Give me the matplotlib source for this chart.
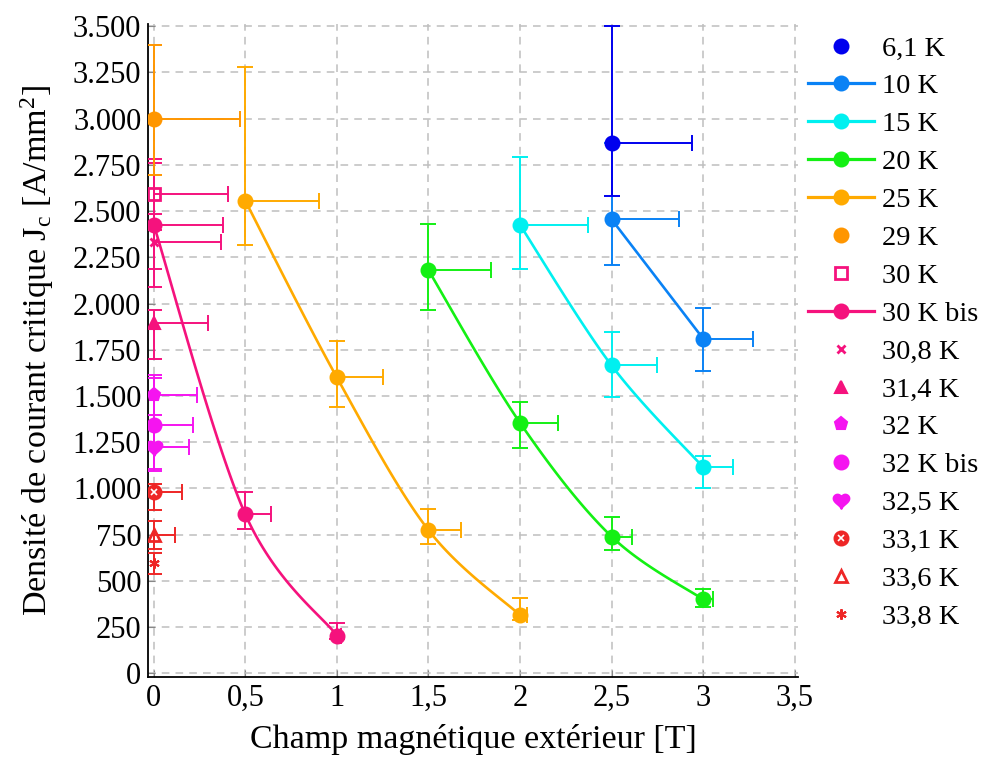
import matplotlib.pyplot as plt
import numpy as np
from matplotlib.lines import Line2D
from matplotlib.path import Path
from matplotlib.ticker import FuncFormatter, MultipleLocator

plt.rcParams['font.family'] = ['Liberation Serif', 'DejaVu Serif']
plt.rcParams['mathtext.fontset'] = 'custom'
plt.rcParams['mathtext.rm'] = 'Liberation Serif'
plt.rcParams['mathtext.it'] = 'Liberation Serif:italic'

# champ B [T], Jc [A/mm2], erreurs basses / hautes sur Jc, erreur + sur B
B_61 = [2.5]
J_61 = [2870]
J_61_lo = [290]
J_61_hi = [630]
B_61_err = [0.44]

B_10 = [2.5, 3.0]
J_10 = [2455, 1810]
J_10_lo = [245, 175]
J_10_hi = [415, 165]
B_10_err = [0.37, 0.27]

B_15 = [2.0, 2.5, 3.0]
J_15 = [2425, 1665, 1115]
J_15_lo = [240, 170, 110]
J_15_hi = [365, 180, 60]
B_15_err = [0.37, 0.25, 0.165]

B_20 = [1.5, 2.0, 2.5, 3.0]
J_20 = [2180, 1355, 740, 400]
J_20_lo = [215, 135, 75, 40]
J_20_hi = [250, 115, 105, 58]
B_20_err = [0.34, 0.21, 0.11, 0.055]

B_25 = [0.5, 1.0, 1.5, 2.0]
J_25 = [2555, 1600, 775, 315]
J_25_lo = [240, 160, 75, 25]
J_25_hi = [725, 195, 115, 95]
B_25_err = [0.4, 0.25, 0.18, 0.04]

B_29 = [0.0]
J_29 = [2995]
J_29_lo = [300]
J_29_hi = [405]
B_29_err = [0.47]

B_30 = [0.0]
J_30 = [2590]
J_30_lo = [190]
J_30_hi = [190]
B_30_err = [0.405]

B_30b = [0.0, 0.5, 1.0]
J_30b = [2425, 860, 205]
J_30b_lo = [335, 80, 20]
J_30b_hi = [335, 120, 65]
B_30b_err = [0.38, 0.14, 0.02]

B_308 = [0.0]
J_308 = [2335]
J_308_lo = [150]
J_308_hi = [150]
B_308_err = [0.366]

B_314 = [0.0]
J_314 = [1895]
J_314_lo = [195]
J_314_hi = [70]
B_314_err = [0.297]

B_32 = [0.0]
J_32 = [1505]
J_32_lo = [110]
J_32_hi = [110]
B_32_err = [0.237]

B_32b = [0.0]
J_32b = [1345]
J_32b_lo = [250]
J_32b_hi = [250]
B_32b_err = [0.212]

B_325 = [0.0]
J_325 = [1225]
J_325_lo = [120]
J_325_hi = [120]
B_325_err = [0.194]

B_331 = [0.0]
J_331 = [980]
J_331_lo = [95]
J_331_hi = [45]
B_331_err = [0.156]

B_336 = [0.0]
J_336 = [750]
J_336_lo = [75]
J_336_hi = [75]
B_336_err = [0.116]

B_338 = [0.0]
J_338 = [595]
J_338_lo = [55]
J_338_hi = [55]
B_338_err = [0.0]

labels = ['6,1 K', '10 K', '15 K', '20 K', '25 K', '29 K', '30 K', '30 K bis',
          '30,8 K', '31,4 K', '32 K', '32 K bis', '32,5 K', '33,1 K', '33,6 K', '33,8 K']

# coeur pour 32,5 K
t = np.linspace(0, 2 * np.pi, 80)
hx = 16 * np.sin(t) ** 3
hy = 13 * np.cos(t) - 5 * np.cos(2 * t) - 2 * np.cos(3 * t) - np.cos(4 * t)
heart = Path(np.column_stack([hx, hy]) / 17.0, closed=False)


def smooth(x, y, n=40):
    # Catmull-Rom en coordonnées normalisées
    x = np.asarray(x, float) / 3.5
    y = np.asarray(y, float) / 3500
    p = np.column_stack([x, y])
    p = np.vstack([p[0], p, p[-1]])
    out = []
    for i in range(1, len(p) - 2):
        p0, p1, p2, p3 = p[i - 1], p[i], p[i + 1], p[i + 2]
        c1 = p1 + (p2 - p0) / 6
        c2 = p2 - (p3 - p1) / 6
        s = np.linspace(0, 1, n)[:, None]
        seg = (1 - s) ** 3 * p1 + 3 * (1 - s) ** 2 * s * c1 + 3 * (1 - s) * s ** 2 * c2 + s ** 3 * p2
        out.append(seg)
    out = np.vstack(out)
    return out[:, 0] * 3.5, out[:, 1] * 3500


fig = plt.figure(figsize=(9.82, 7.57), dpi=100)
ax = fig.add_axes([0.151, 0.106, 0.662, 0.862])

series = [
    (B_61, J_61, J_61_lo, J_61_hi, B_61_err, '#0000ee', 'o', True, False),
    (B_10, J_10, J_10_lo, J_10_hi, B_10_err, '#0a82f5', 'o', True, True),
    (B_15, J_15, J_15_lo, J_15_hi, B_15_err, '#00f0f0', 'o', True, True),
    (B_20, J_20, J_20_lo, J_20_hi, B_20_err, '#14f014', 'o', True, True),
    (B_25, J_25, J_25_lo, J_25_hi, B_25_err, '#ffaa00', 'o', True, True),
    (B_29, J_29, J_29_lo, J_29_hi, B_29_err, '#ff9600', 'o', True, False),
    (B_30, J_30, J_30_lo, J_30_hi, B_30_err, '#f5127d', 's', False, False),
    (B_30b, J_30b, J_30b_lo, J_30b_hi, B_30b_err, '#f5127d', 'o', True, True),
    (B_308, J_308, J_308_lo, J_308_hi, B_308_err, '#f5127d', 'x', True, False),
    (B_314, J_314, J_314_lo, J_314_hi, B_314_err, '#f5127d', '^', True, False),
    (B_32, J_32, J_32_lo, J_32_hi, B_32_err, '#f514f0', 'p', True, False),
    (B_32b, J_32b, J_32b_lo, J_32b_hi, B_32b_err, '#f514f0', 'o', True, False),
    (B_325, J_325, J_325_lo, J_325_hi, B_325_err, '#f514f0', heart, True, False),
    (B_331, J_331, J_331_lo, J_331_hi, B_331_err, '#ee2626', 'o', True, False),
    (B_336, J_336, J_336_lo, J_336_hi, B_336_err, '#ee2626', '^', False, False),
    (B_338, J_338, J_338_lo, J_338_hi, B_338_err, '#ee2626', (6, 2, 0), True, False),
]

sizes = {'o': 10, 's': 8.5, 'x': 5.5, '^': 8.5, 'p': 9.5}
handles = []
for k, (bx, jy, lo, hi, xe, c, m, filled, line) in enumerate(series):
    z = 3 + 0.1 * (len(series) - k)
    ax.errorbar(bx, jy, yerr=[lo, hi], xerr=[[0] * len(bx), xe], fmt='none',
                ecolor=c, elinewidth=1.4, capsize=6, capthick=1.4, zorder=z)
    if line:
        if len(bx) > 2:
            sx, sy = smooth(bx, jy)
        else:
            sx, sy = bx, jy
        ax.plot(sx, sy, color=c, lw=1.9, zorder=z)
    ms = sizes.get(m, 10) if isinstance(m, str) else (12 if m is heart else 7.5)
    mew = 2.0 if m == 'x' or not filled else 1.5
    ax.plot(bx, jy, ls='none', marker=m, ms=ms, color=c, mec=c,
            mfc=c if filled else 'none', mew=mew, zorder=z + 1)
    h = Line2D([], [], color=c, lw=2.3 if line else 0, ls='-' if line else 'none',
               marker=m, ms=ms, mec=c, mfc=c if filled else 'white', mew=mew)
    if k == 13:
        ax.plot(bx, jy, ls='none', marker='x', ms=4.5, color='white', mew=1.2, zorder=z + 1.05)
        h = (h, Line2D([], [], ls='none', marker='x', ms=4.5, color='white', mew=1.2))
    handles.append(h)

ax.set_xlim(-0.03, 3.52)
ax.set_ylim(-18, 3510)
ax.xaxis.set_major_locator(MultipleLocator(0.5))
ax.yaxis.set_major_locator(MultipleLocator(250))
ax.xaxis.set_major_formatter(FuncFormatter(lambda v, p: ('%g' % v).replace('.', ',')))
ax.yaxis.set_major_formatter(FuncFormatter(lambda v, p: '{:,.0f}'.format(v).replace(',', '.')))
ax.tick_params(labelsize=22, direction='in', length=5, color='#888888', pad=5)
ax.grid(True, ls=(0, (5, 4)), color='#bfbfbf', lw=1.1)
ax.set_axisbelow(True)
for s in ['top', 'right']:
    ax.spines[s].set_visible(False)
for s in ['left', 'bottom']:
    ax.spines[s].set_linewidth(1.3)

ax.set_xlabel('Champ magnétique extérieur [T]', fontsize=24.5, labelpad=8)
ax.set_ylabel('Densité de courant critique J$_\\mathrm{c}$ [A/mm$^2$]', fontsize=24.5, labelpad=12)

ax.legend(handles, labels, loc='upper left', bbox_to_anchor=(0.998, 1.0), frameon=False,
          fontsize=20.5, handlelength=2.3, handletextpad=0.3, labelspacing=0.42,
          borderaxespad=0.1, borderpad=0.3)

plt.savefig('out.png', dpi=100)
